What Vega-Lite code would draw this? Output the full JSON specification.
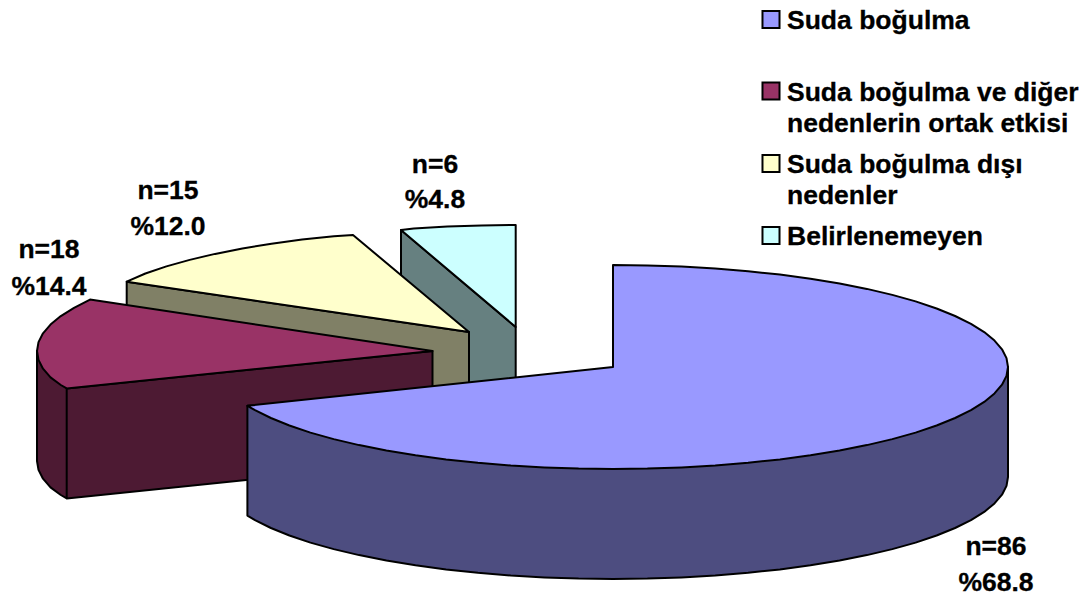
{
  "$schema": "https://vega.github.io/schema/vega-lite/v6.json",
  "width": 1092,
  "height": 597,
  "autosize": {"type": "fit", "contains": "padding"},
  "padding": 0,
  "background": "white",
  "view": {"stroke": null},
  "config": {"text": {"font": "Liberation Sans", "fontWeight": "bold", "fontSize": 26.5, "fill": "black", "stroke": "black", "strokeWidth": 0.3}},
  "resolve": {"scale": {"fill": "independent"}},
  "datasets": {
    "faces": [
      {"part": "a_side", "x": 401, "y": 230}, {"part": "a_side", "x": 515.7, "y": 327}, {"part": "a_side", "x": 515.7, "y": 437}, {"part": "a_side", "x": 401, "y": 340},
      {"part": "b_top", "x": 401, "y": 230}, {"part": "b_top", "x": 413.8, "y": 228.5}, {"part": "b_top", "x": 447.4, "y": 226.6}, {"part": "b_top", "x": 481.6, "y": 225.4}, {"part": "b_top", "x": 515.7, "y": 225}, {"part": "b_top", "x": 515.7, "y": 327},
      {"part": "c_side", "x": 126.7, "y": 281.7}, {"part": "c_side", "x": 469, "y": 332}, {"part": "c_side", "x": 469, "y": 442}, {"part": "c_side", "x": 126.7, "y": 391.7},
      {"part": "d_top", "x": 126.7, "y": 281.7}, {"part": "d_top", "x": 145.4, "y": 273.5}, {"part": "d_top", "x": 166.4, "y": 266.4}, {"part": "d_top", "x": 189.7, "y": 259.9}, {"part": "d_top", "x": 215.1, "y": 253.9}, {"part": "d_top", "x": 242.4, "y": 248.4}, {"part": "d_top", "x": 271.5, "y": 243.7}, {"part": "d_top", "x": 302.1, "y": 239.6}, {"part": "d_top", "x": 333.9, "y": 236.2}, {"part": "d_top", "x": 353, "y": 235}, {"part": "d_top", "x": 469, "y": 332},
      {"part": "e_side", "x": 37, "y": 351}, {"part": "e_side", "x": 37, "y": 461}, {"part": "e_side", "x": 38.5, "y": 469.9}, {"part": "e_side", "x": 43, "y": 478.7}, {"part": "e_side", "x": 50.5, "y": 487.4}, {"part": "e_side", "x": 60.8, "y": 495}, {"part": "e_side", "x": 66.7, "y": 498.4}, {"part": "e_side", "x": 66.7, "y": 388.4},
      {"part": "e_side", "x": 66.7, "y": 498.4}, {"part": "e_side", "x": 432.5, "y": 461}, {"part": "e_side", "x": 432.5, "y": 351}, {"part": "e_side", "x": 66.7, "y": 388.4},
      {"part": "f_top", "x": 66.7, "y": 388.4}, {"part": "f_top", "x": 60.8, "y": 385}, {"part": "f_top", "x": 50.5, "y": 377.4}, {"part": "f_top", "x": 43, "y": 368.7}, {"part": "f_top", "x": 38.5, "y": 359.9}, {"part": "f_top", "x": 37, "y": 351}, {"part": "f_top", "x": 38.5, "y": 342.1}, {"part": "f_top", "x": 43, "y": 333.3}, {"part": "f_top", "x": 50.5, "y": 324.6}, {"part": "f_top", "x": 60.8, "y": 316.1}, {"part": "f_top", "x": 74, "y": 307.9}, {"part": "f_top", "x": 90, "y": 299.6}, {"part": "f_top", "x": 432.5, "y": 351},
      {"part": "g_side", "x": 1008, "y": 367}, {"part": "g_side", "x": 1008, "y": 477}, {"part": "g_side", "x": 1006.5, "y": 485.9}, {"part": "g_side", "x": 1002, "y": 494.7}, {"part": "g_side", "x": 994.5, "y": 503.4}, {"part": "g_side", "x": 984.2, "y": 511.9}, {"part": "g_side", "x": 971, "y": 520.1}, {"part": "g_side", "x": 955.1, "y": 528}, {"part": "g_side", "x": 936.6, "y": 535.5}, {"part": "g_side", "x": 915.6, "y": 542.6}, {"part": "g_side", "x": 892.3, "y": 549.1}, {"part": "g_side", "x": 866.9, "y": 555.1}, {"part": "g_side", "x": 839.6, "y": 560.6}, {"part": "g_side", "x": 810.5, "y": 565.3}, {"part": "g_side", "x": 779.9, "y": 569.4}, {"part": "g_side", "x": 748.1, "y": 572.8}, {"part": "g_side", "x": 715.2, "y": 575.5}, {"part": "g_side", "x": 681.6, "y": 577.4}, {"part": "g_side", "x": 647.4, "y": 578.6}, {"part": "g_side", "x": 613, "y": 579}, {"part": "g_side", "x": 578.6, "y": 578.6}, {"part": "g_side", "x": 544.4, "y": 577.4}, {"part": "g_side", "x": 510.8, "y": 575.5}, {"part": "g_side", "x": 477.9, "y": 572.8}, {"part": "g_side", "x": 446.1, "y": 569.4}, {"part": "g_side", "x": 415.5, "y": 565.3}, {"part": "g_side", "x": 386.4, "y": 560.6}, {"part": "g_side", "x": 359.1, "y": 555.1}, {"part": "g_side", "x": 333.7, "y": 549.1}, {"part": "g_side", "x": 310.4, "y": 542.6}, {"part": "g_side", "x": 289.4, "y": 535.5}, {"part": "g_side", "x": 270.9, "y": 528}, {"part": "g_side", "x": 255, "y": 520.1}, {"part": "g_side", "x": 247.4, "y": 515.6}, {"part": "g_side", "x": 247.4, "y": 405.8},
      {"part": "h_top", "x": 613, "y": 265}, {"part": "h_top", "x": 647.4, "y": 265.4}, {"part": "h_top", "x": 681.6, "y": 266.6}, {"part": "h_top", "x": 715.2, "y": 268.5}, {"part": "h_top", "x": 748.1, "y": 271.2}, {"part": "h_top", "x": 779.9, "y": 274.6}, {"part": "h_top", "x": 810.5, "y": 278.7}, {"part": "h_top", "x": 839.6, "y": 283.4}, {"part": "h_top", "x": 866.9, "y": 288.9}, {"part": "h_top", "x": 892.3, "y": 294.9}, {"part": "h_top", "x": 915.6, "y": 301.4}, {"part": "h_top", "x": 936.6, "y": 308.5}, {"part": "h_top", "x": 955.1, "y": 316}, {"part": "h_top", "x": 971, "y": 323.9}, {"part": "h_top", "x": 984.2, "y": 332.1}, {"part": "h_top", "x": 994.5, "y": 340.6}, {"part": "h_top", "x": 1002, "y": 349.3}, {"part": "h_top", "x": 1006.5, "y": 358.1}, {"part": "h_top", "x": 1008, "y": 367}, {"part": "h_top", "x": 1006.5, "y": 375.9}, {"part": "h_top", "x": 1002, "y": 384.7}, {"part": "h_top", "x": 994.5, "y": 393.4}, {"part": "h_top", "x": 984.2, "y": 401.9}, {"part": "h_top", "x": 971, "y": 410.1}, {"part": "h_top", "x": 955.1, "y": 418}, {"part": "h_top", "x": 936.6, "y": 425.5}, {"part": "h_top", "x": 915.6, "y": 432.6}, {"part": "h_top", "x": 892.3, "y": 439.1}, {"part": "h_top", "x": 866.9, "y": 445.1}, {"part": "h_top", "x": 839.6, "y": 450.6}, {"part": "h_top", "x": 810.5, "y": 455.3}, {"part": "h_top", "x": 779.9, "y": 459.4}, {"part": "h_top", "x": 748.1, "y": 462.8}, {"part": "h_top", "x": 715.2, "y": 465.5}, {"part": "h_top", "x": 681.6, "y": 467.4}, {"part": "h_top", "x": 647.4, "y": 468.6}, {"part": "h_top", "x": 613, "y": 469}, {"part": "h_top", "x": 578.6, "y": 468.6}, {"part": "h_top", "x": 544.4, "y": 467.4}, {"part": "h_top", "x": 510.8, "y": 465.5}, {"part": "h_top", "x": 477.9, "y": 462.8}, {"part": "h_top", "x": 446.1, "y": 459.4}, {"part": "h_top", "x": 415.5, "y": 455.3}, {"part": "h_top", "x": 386.4, "y": 450.6}, {"part": "h_top", "x": 359.1, "y": 445.1}, {"part": "h_top", "x": 333.7, "y": 439.1}, {"part": "h_top", "x": 310.4, "y": 432.6}, {"part": "h_top", "x": 289.4, "y": 425.5}, {"part": "h_top", "x": 270.9, "y": 418}, {"part": "h_top", "x": 255, "y": 410.1}, {"part": "h_top", "x": 247.4, "y": 405.8}, {"part": "h_top", "x": 613, "y": 367}
    ],
    "key": [
      {"slice": "Suda boğulma", "x": 771, "y": 19.5},
      {"slice": "Suda boğulma ve diğer nedenlerin ortak etkisi", "x": 771, "y": 91},
      {"slice": "Suda boğulma dışı nedenler", "x": 771, "y": 163.5},
      {"slice": "Belirlenemeyen", "x": 771, "y": 235.5}
    ],
    "keyText": [
      {"line": "Suda boğulma", "x": 787, "y": 28.5},
      {"line": "Suda boğulma ve diğer", "x": 787, "y": 100.5},
      {"line": "nedenlerin ortak etkisi", "x": 787, "y": 132},
      {"line": "Suda boğulma dışı", "x": 787, "y": 172.5},
      {"line": "nedenler", "x": 787, "y": 204},
      {"line": "Belirlenemeyen", "x": 787, "y": 245}
    ],
    "sliceText": [
      {"line": "n=86", "x": 996, "y": 555},
      {"line": "%68.8", "x": 996, "y": 590.5},
      {"line": "n=18", "x": 49, "y": 258},
      {"line": "%14.4", "x": 49, "y": 295},
      {"line": "n=15", "x": 168, "y": 199},
      {"line": "%12.0", "x": 168, "y": 234.5},
      {"line": "n=6", "x": 435, "y": 173},
      {"line": "%4.8", "x": 435, "y": 208}
    ]
  },
  "encoding": {
    "x": {"field": "x", "type": "quantitative", "scale": {"domain": [0, 1092], "nice": false, "zero": false}, "axis": null},
    "y": {"field": "y", "type": "quantitative", "scale": {"domain": [597, 0], "nice": false, "zero": false}, "axis": null}
  },
  "layer": [
    {
      "data": {"name": "faces"},
      "mark": {"type": "line", "interpolate": "linear-closed", "stroke": "black", "strokeWidth": 2, "strokeJoin": "round"},
      "encoding": {
        "order": {"value": null},
        "fill": {
          "field": "part",
          "type": "nominal",
          "legend": null,
          "scale": {
            "domain": ["a_side", "b_top", "c_side", "d_top", "e_side", "f_top", "g_side", "h_top"],
            "range": ["#668080", "#CCFFFF", "#808066", "#FFFFCC", "#4D1A33", "#993366", "#4D4D80", "#9999FF"]
          }
        }
      }
    },
    {
      "data": {"name": "key"},
      "mark": {"type": "point", "shape": "square", "filled": true, "size": 290, "stroke": "black", "strokeWidth": 2, "opacity": 1},
      "encoding": {
        "fill": {
          "field": "slice",
          "type": "nominal",
          "legend": null,
          "scale": {
            "domain": ["Suda boğulma", "Suda boğulma ve diğer nedenlerin ortak etkisi", "Suda boğulma dışı nedenler", "Belirlenemeyen"],
            "range": ["#9999FF", "#993366", "#FFFFCC", "#CCFFFF"]
          }
        }
      }
    },
    {
      "data": {"name": "keyText"},
      "mark": {"type": "text", "align": "left", "baseline": "alphabetic"},
      "encoding": {"text": {"field": "line", "type": "nominal"}}
    },
    {
      "data": {"name": "sliceText"},
      "mark": {"type": "text", "align": "center", "baseline": "alphabetic"},
      "encoding": {"text": {"field": "line", "type": "nominal"}}
    }
  ]
}
